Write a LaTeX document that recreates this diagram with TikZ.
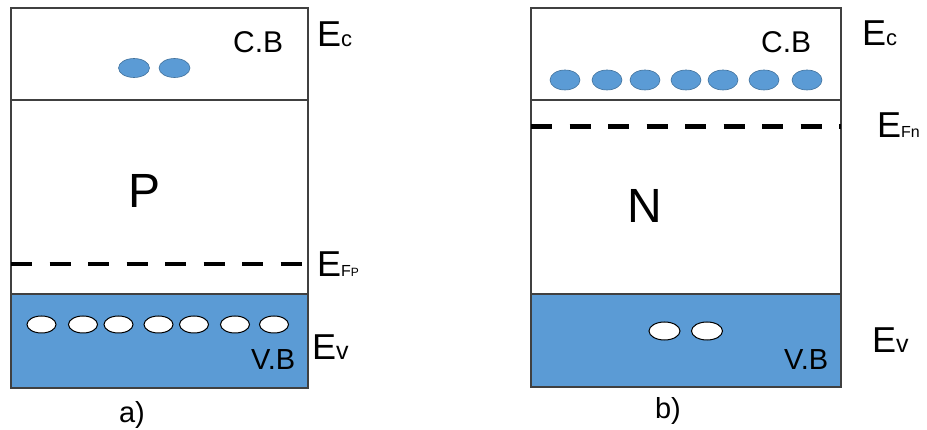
\documentclass[tikz,border=0pt]{standalone}
\usepackage{fontspec}
\setmainfont{Liberation Sans}
\usetikzlibrary{shapes.geometric}
\definecolor{bandblue}{HTML}{5B9BD5}
\definecolor{edgeblue}{HTML}{41719C}
\definecolor{boxline}{HTML}{404040}
\newcommand{\fsz}[1]{\fontsize{#1}{#1}\selectfont}
\tikzset{
  bandbox/.style={draw=boxline, line width=1.4pt},
  fermi/.style={line width=4.5pt, dash pattern=on 21pt off 17.5pt},
  elec/.style={ellipse, fill=bandblue, draw=edgeblue, line width=0.6pt, minimum width=31pt, minimum height=19pt, inner sep=0pt},
  hole/.style={ellipse, fill=white, draw=black, line width=1pt, minimum width=29pt, minimum height=17pt, inner sep=0pt},
  lbl/.style={inner sep=0pt, anchor=base west},
  lblc/.style={inner sep=0pt, anchor=base},
}
\begin{document}
\begin{tikzpicture}[x=1pt,y=-1pt]
\useasboundingbox (0,0) rectangle (927,430);
% ---------- a) p-type ----------
\fill[bandblue] (11,294) rectangle (308,388);
\draw[bandbox] (11,8) rectangle (308,388);
\draw[bandbox] (11,100) -- (308,100);
\draw[bandbox] (11,294) -- (308,294);
\draw[fermi] (11,264) -- (308,264);
\node[elec] (ea1) at (134,68) {};
\node[elec] (ea2) at (174.5,68) {};
\foreach \i/\x in {1/41.5,2/83,3/118.5,4/158.5,5/194,6/235,7/274}
  \node[hole] (ha\i) at (\x,324.5) {};
\node[lbl] (cba) at (233,53) {\fsz{30}C.B};
\node[lbl] (vba) at (251,370) {\fsz{29}V.B};
\node[lblc] (pa) at (144.5,208) {\fsz{48}P};
\node[lbl] (eca) at (317,47) {\fsz{36}E\fsz{22}c};
\node[lbl] (efa) at (317,277) {\fsz{36}E\fsz{16}F\fsz{12}P};
\node[lbl] (eva) at (312,360) {\fsz{36}E\fsz{25}v};
\node[lblc] (capa) at (132,422) {\fsz{29}a)};
% ---------- b) n-type ----------
\fill[bandblue] (531,294) rectangle (841,387);
\draw[bandbox] (531,8) rectangle (841,387);
\draw[bandbox] (531,100) -- (841,100);
\draw[bandbox] (531,294) -- (841,294);
\draw[fermi] (531,126.5) -- (841,126.5);
\foreach \i/\x in {1/565,2/607,3/645,4/686,5/723,6/764,7/807}
  \node[elec, minimum width=30pt, minimum height=20pt] (eb\i) at (\x,80) {};
\node[hole, minimum width=31pt, minimum height=18pt] (hb1) at (664.5,331) {};
\node[hole, minimum width=31pt, minimum height=18pt] (hb2) at (707,331) {};
\node[lbl] (cbb) at (761,53) {\fsz{30}C.B};
\node[lbl] (vbb) at (784,370) {\fsz{29}V.B};
\node[lblc] (nb) at (645,223) {\fsz{48}N};
\node[lbl] (ecb) at (862,46) {\fsz{36}E\fsz{22}c};
\node[lbl] (efb) at (877,138) {\fsz{36}E\fsz{16}F\fsz{16}n};
\node[lbl] (evb) at (872,353) {\fsz{36}E\fsz{25}v};
\node[lblc] (capb) at (668,418) {\fsz{29}b)};
\end{tikzpicture}
\end{document}
